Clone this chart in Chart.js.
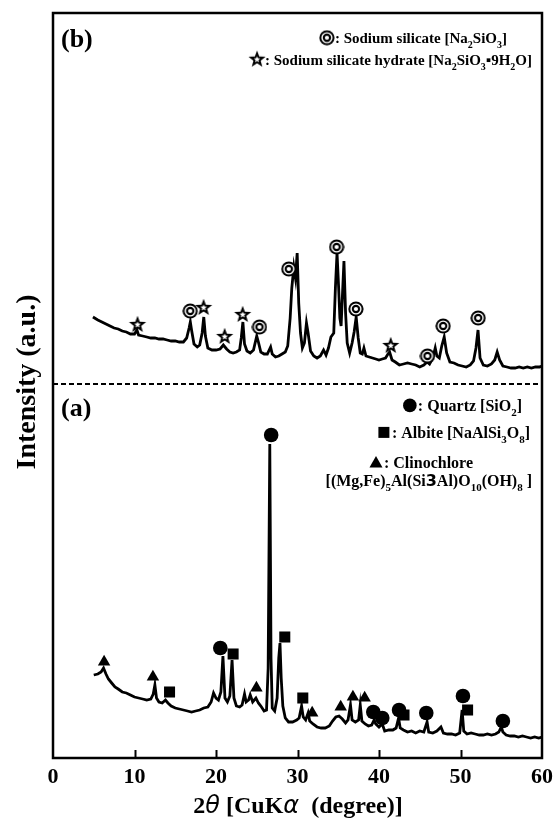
<!DOCTYPE html>
<html>
<head>
<meta charset="utf-8">
<script src="https://cdn.jsdelivr.net/npm/chart.js@4.4.1/dist/chart.umd.min.js"></script>
<style>
html,body{margin:0;padding:0;background:#fff;}
#wrap{width:560px;height:822px;}
</style>
</head>
<body>
<div id="wrap"><canvas id="c" width="560" height="822"></canvas></div>
<script>
// ---------- DATA ----------
const xTickValues = [0, 10, 20, 30, 40, 50, 60];
const xTickLabels = ['0', '10', '20', '30', '40', '50', '60'];

// (a) raw sample pattern  [2theta, intensity a.u.]
const patternA = [
[5.0,83],[5.5,84],[5.9,86],[6.2,90],[6.5,84],[6.8,79],[7.2,75],[7.6,71],[8.0,69],[8.5,66],[9.0,65],[9.5,63],
[10.0,61],[10.5,60],[11.0,59],[11.5,58],[12.0,59],[12.3,64],[12.5,73],[12.7,60],[13.0,56],[13.4,55],[13.8,58],
[14.1,55],[14.5,52],[15.0,50],[15.5,49],[16.0,48],[16.5,47],[17.0,46],[17.5,47],[18.0,48],[18.5,50],[19.0,51],
[19.4,56],[19.7,65],[20.0,60],[20.3,58],[20.6,66],[20.85,102],[21.1,60],[21.4,56],[21.7,62],[21.97,98],[22.2,60],
[22.5,52],[22.9,51],[23.2,53],[23.5,64],[23.7,56],[24.0,58],[24.2,63],[24.5,56],[24.9,60],[25.2,55],[25.5,52],
[25.9,47],[26.2,48],[26.4,90],[26.6,314],[26.75,100],[26.9,50],[27.2,47],[27.5,60],[27.7,100],[27.85,115],[28.0,80],
[28.2,52],[28.5,40],[28.9,36],[29.4,36],[29.9,38],[30.2,40],[30.5,52],[30.7,41],[31.0,38],[31.3,45],[31.5,37],
[31.9,34],[32.4,31],[32.9,30],[33.4,30],[33.9,32],[34.3,37],[34.7,41],[35.1,42],[35.5,39],[35.9,35],[36.2,38],
[36.5,53],[36.7,38],[37.1,36],[37.5,38],[37.7,53],[37.9,37],[38.3,34],[38.7,32],[39.1,33],[39.4,38],[39.6,34],
[40.0,31],[40.4,34],[40.7,27],[41.2,28],[41.7,28],[42.1,30],[42.4,40],[42.6,30],[43.0,28],[43.5,26],[44.0,27],
[44.5,25],[45.0,27],[45.5,26],[45.9,36],[46.1,26],[46.6,25],[47.1,27],[47.6,31],[47.9,25],[48.4,24],[48.9,24],
[49.4,23],[49.9,25],[50.2,48],[50.4,27],[50.8,24],[51.3,25],[51.8,24],[52.3,23],[52.8,23],[53.3,24],[53.8,23],
[54.3,24],[54.7,26],[55.0,31],[55.2,26],[55.6,23],[56.1,22],[56.6,22],[57.1,21],[57.6,22],[58.1,21],[58.6,20],
[59.1,21],[59.6,20],[60.0,21]
];

// (b) treated sample pattern (offset upward)
const patternB = [
[4.9,441],[5.5,438],[6.0,436],[6.5,434],[7.0,432],[7.5,430],[8.0,429],[8.5,427],[9.0,426],[9.5,424],[10.0,424],
[10.3,428],[10.5,423],[11.0,422],[11.5,421],[12.0,420],[12.5,420],[13.0,419],[13.5,419],[14.0,418],[14.5,417],
[15.0,417],[15.5,416],[16.0,416],[16.4,420],[16.7,430],[16.85,436],[17.0,428],[17.3,414],[17.7,411],[18.0,413],
[18.3,425],[18.5,441],[18.7,422],[19.0,410],[19.5,408],[20.0,408],[20.5,409],[20.9,413],[21.3,409],[21.7,406],
[22.1,405],[22.5,406],[22.9,408],[23.1,420],[23.3,436],[23.5,414],[23.8,407],[24.2,405],[24.6,408],[25.0,422],
[25.2,416],[25.5,406],[25.9,404],[26.3,404],[26.7,411],[26.9,404],[27.3,401],[27.7,402],[28.1,404],[28.5,406],
[28.8,412],[29.1,440],[29.3,470],[29.55,491],[29.75,480],[29.96,505],[30.15,455],[30.37,425],[30.6,410],[30.85,415],
[31.1,435],[31.3,425],[31.6,407],[32.0,402],[32.4,400],[32.8,402],[33.2,408],[33.5,403],[33.8,410],[34.1,421],
[34.45,425],[34.65,470],[34.85,505],[35.05,470],[35.2,440],[35.35,432],[35.5,460],[35.7,497],[35.9,445],[36.1,415],
[36.4,405],[36.7,415],[36.95,426],[37.2,441],[37.45,420],[37.7,405],[37.95,404],[38.15,410],[38.4,402],[38.8,401],
[39.2,400],[39.6,399],[40.0,398],[40.4,399],[40.8,400],[41.1,404],[41.3,406],[41.6,398],[42.0,396],[42.5,393],
[43.0,394],[43.5,395],[44.0,394],[44.5,393],[45.0,391],[45.5,393],[45.9,396],[46.2,394],[46.6,400],[46.9,410],
[47.1,402],[47.4,400],[47.7,412],[48.0,421],[48.3,405],[48.7,396],[49.2,395],[49.7,393],[50.2,392],[50.7,391],
[51.2,393],[51.6,397],[51.9,410],[52.15,428],[52.4,400],[52.8,393],[53.3,392],[53.8,394],[54.2,398],[54.5,406],
[54.8,398],[55.2,392],[55.7,391],[56.2,390],[56.7,390],[57.2,391],[57.7,390],[58.2,391],[58.7,390],[59.2,391],
[59.7,391],[60.0,392]
];

// phase marker positions
const quartzMarks = [[20.53,110],[26.77,323],[39.3,46],[40.4,40],[42.46,48],[45.8,45],[50.3,62],[55.2,37]];
const albiteMarks = [[14.3,66],[22.1,104],[28.44,121],[30.65,60],[43.07,43],[50.87,48]];
const clinochloreMarks = [[6.27,96],[12.26,81],[24.96,70],[31.8,45],[35.3,51],[36.8,61],[38.24,60]];
const sodiumSilicateMarks = [[16.84,447],[25.33,431],[28.93,489],[34.8,511],[37.17,449],[45.95,402],[47.87,432],[52.17,440]];
const hydrateMarks = [[10.37,434],[18.48,451],[21.06,422],[23.27,444],[41.44,413]];

const separatorValue = 374;   // dashed line between (a) and (b)
const yMin = 0, yMax = 745;

// ---------- marker images ----------
function makeDoubleCircle(){
  const c=document.createElement('canvas'); c.width=16; c.height=16;
  const g=c.getContext('2d');
  const disk=(r,col)=>{g.beginPath();g.arc(8,8,r,0,Math.PI*2);g.fillStyle=col;g.fill();};
  disk(7.6,'#000'); disk(5.6,'#fff'); disk(4.2,'#000'); disk(2.1,'#fff');
  return c;
}
function starPath(g,cx,cy,R,r){
  g.beginPath();
  for(let i=0;i<10;i++){
    const ang=-Math.PI/2+i*Math.PI/5; const rad=(i%2===0)?R:r;
    const px=cx+rad*Math.cos(ang), py=cy+rad*Math.sin(ang);
    if(i===0)g.moveTo(px,py); else g.lineTo(px,py);
  }
  g.closePath();
}
function makeStar(){
  const c=document.createElement('canvas'); c.width=20; c.height=20;
  const g=c.getContext('2d');
  starPath(g,10,10.8,9,3.8); g.fillStyle='#000'; g.fill();
  starPath(g,10,10.8,3.4,1.5); g.fillStyle='#fff'; g.fill();
  return c;
}
const dcircImg = makeDoubleCircle();
const starImg = makeStar();

// ---------- text helpers ----------
const SERIF = '"Liberation Serif","DejaVu Serif",serif';
function segFont(s,size){
  if(s.font) return s.font;
  const sz = s.sub ? Math.round(size*0.66) : size;
  return 'bold '+sz+'px '+SERIF;
}
function symWidth(){ return 15; }
function measureSegs(ctx,segs,size){
  let w=0;
  for(const s of segs){
    if(s.sym){ w+=symWidth(); continue; }
    ctx.font=segFont(s,size); w+=ctx.measureText(s.t).width;
  }
  return w;
}
function drawSym(ctx,sym,x,y,size){
  const cx=x+7, cy=y;
  ctx.save(); ctx.fillStyle='#000';
  if(sym==='circle'){ctx.beginPath();ctx.arc(cx,cy,6.8,0,Math.PI*2);ctx.fill();}
  else if(sym==='rect'){ctx.fillRect(cx-5.5,cy-5.5,11,11);}
  else if(sym==='tri'){ctx.beginPath();ctx.moveTo(cx,cy-6.5);ctx.lineTo(cx+6.5,cy+5);ctx.lineTo(cx-6.5,cy+5);ctx.closePath();ctx.fill();}
  else if(sym==='dcirc'){ctx.drawImage(dcircImg,cx-8,cy-8);}
  else if(sym==='star'){ctx.drawImage(starImg,cx-10,cy-11);}
  ctx.restore();
}
function drawSegs(ctx,segs,x,baseline,size,align){
  const w=measureSegs(ctx,segs,size);
  let cx = align==='right' ? x-w : (align==='center' ? x-w/2 : x);
  ctx.save(); ctx.fillStyle='#000'; ctx.textBaseline='alphabetic'; ctx.textAlign='left';
  for(const s of segs){
    if(s.sym){ drawSym(ctx,s.sym,cx,baseline-size*0.35,size); cx+=symWidth(); continue; }
    ctx.font=segFont(s,size);
    const dy = s.sub ? size*0.3 : 0;
    ctx.fillText(s.t,cx,baseline+dy);
    cx+=ctx.measureText(s.t).width;
  }
  ctx.restore();
}

const legendB1=[{sym:'dcirc'},{t:': Sodium silicate [Na'},{t:'2',sub:true},{t:'SiO'},{t:'3',sub:true},{t:']'}];
const legendB2=[{sym:'star'},{t:': Sodium silicate hydrate [Na'},{t:'2',sub:true},{t:'SiO'},{t:'3',sub:true},{t:'\u25AA'},{t:'9H'},{t:'2',sub:true},{t:'O]'}];
const legendA1=[{sym:'circle'},{t:': Quartz [SiO'},{t:'2',sub:true},{t:']'}];
const legendA2=[{sym:'rect'},{t:': Albite [NaAlSi'},{t:'3',sub:true},{t:'O'},{t:'8',sub:true},{t:']'}];
const legendA3=[{sym:'tri'},{t:': Clinochlore'}];
const legendA4=[{t:'[(Mg,Fe)'},{t:'5',sub:true},{t:'Al(Si'},{t:'3',font:'bold 16px "DejaVu Sans",sans-serif'},{t:'Al)O'},{t:'10',sub:true},{t:'(OH)'},{t:'8',sub:true},{t:' ]'}];
const xTitle=[{t:'2',font:'bold 24px '+SERIF},{t:'\u03B8',font:'italic 24px "DejaVu Sans",sans-serif'},{t:' [CuK',font:'bold 24px '+SERIF},{t:'\u03B1',font:'italic 24px "DejaVu Sans",sans-serif'},{t:'  (degree)]',font:'bold 24px '+SERIF}];

const decor = {
  id:'decor',
  afterDatasetsDraw(chart){
    const ctx=chart.ctx, a=chart.chartArea, xs=chart.scales.x, ys=chart.scales.y;
    ctx.save();
    const yy=ys.getPixelForValue(separatorValue);
    ctx.strokeStyle='#000'; ctx.lineWidth=2; ctx.setLineDash([5,3]);
    ctx.beginPath(); ctx.moveTo(a.left,yy); ctx.lineTo(a.right,yy); ctx.stroke();
    ctx.setLineDash([]);
    ctx.lineWidth=2;
    for(const v of xTickValues){
      if(v===xs.min||v===xs.max) continue;
      const px=Math.round(xs.getPixelForValue(v))+0.5;
      ctx.beginPath(); ctx.moveTo(px,a.bottom); ctx.lineTo(px,a.bottom-8); ctx.stroke();
    }
    ctx.lineWidth=2.5;
    ctx.strokeRect(a.left,a.top,a.right-a.left,a.bottom-a.top);
    ctx.restore();

    ctx.save(); ctx.fillStyle='#000'; ctx.font='bold 26px '+SERIF; ctx.textBaseline='alphabetic';
    ctx.fillText('(b)',61,47);
    ctx.fillText('(a)',61,416);
    ctx.restore();

    drawSegs(ctx,legendB1,507,43,15,'right');
    drawSegs(ctx,legendB2,532,65,15,'right');
    drawSegs(ctx,legendA1,522,411,16,'right');
    drawSegs(ctx,legendA2,530,438,16,'right');
    drawSegs(ctx,legendA3,421,468,16,'center');
    drawSegs(ctx,legendA4,532,486,16,'right');

    drawSegs(ctx,xTitle,298,813,24,'center');
    ctx.save(); ctx.translate(28,382); ctx.rotate(-Math.PI/2);
    ctx.font='bold 28px '+SERIF; ctx.fillStyle='#000'; ctx.textAlign='center'; ctx.textBaseline='middle';
    ctx.fillText('Intensity (a.u.)',0,0);
    ctx.restore();
  }
};

const toPts = arr => arr.map(p=>({x:p[0],y:p[1]}));

new Chart(document.getElementById('c'),{
  type:'scatter',
  data:{datasets:[
    {label:'Quartz',data:toPts(quartzMarks),pointStyle:'circle',pointRadius:7.3,backgroundColor:'#000',borderColor:'#000',borderWidth:0,order:0},
    {label:'Albite',data:toPts(albiteMarks),pointStyle:'rect',pointRadius:7.8,backgroundColor:'#000',borderColor:'#000',borderWidth:0,order:0},
    {label:'Clinochlore',data:toPts(clinochloreMarks),pointStyle:'triangle',pointRadius:7.2,backgroundColor:'#000',borderColor:'#000',borderWidth:0,order:0},
    {label:'Sodium silicate',data:toPts(sodiumSilicateMarks),pointStyle:dcircImg,pointRadius:8,order:0},
    {label:'Sodium silicate hydrate',data:toPts(hydrateMarks),pointStyle:starImg,pointRadius:9,order:0},
    {label:'(a)',data:toPts(patternA),showLine:true,borderColor:'#000',borderWidth:2.8,pointRadius:0,tension:0,order:1},
    {label:'(b)',data:toPts(patternB),showLine:true,borderColor:'#000',borderWidth:2.8,pointRadius:0,tension:0,order:1}
  ]},
  options:{
    responsive:false, animation:false, devicePixelRatio:1,
    layout:{padding:{top:13,right:18,left:0,bottom:0}},
    plugins:{legend:{display:false},tooltip:{enabled:false}},
    scales:{
      x:{type:'linear',min:0,max:60,
        afterBuildTicks(s){ s.ticks = xTickValues.map(v=>({value:v})); },
        afterFit(s){ s.height=64; },
        grid:{display:false,drawTicks:false},
        border:{display:false},
        ticks:{padding:6,color:'#000',font:{family:SERIF,size:22,weight:'bold'},
          callback:(v)=>{const i=xTickValues.indexOf(v);return i>=0?xTickLabels[i]:'';},maxRotation:0,autoSkip:false}
      },
      y:{type:'linear',min:yMin,max:yMax,
        afterFit(s){ s.width=53; },
        grid:{display:false,drawTicks:false},
        border:{display:false},
        ticks:{display:false}
      }
    }
  },
  plugins:[decor]
});
</script>
</body>
</html>
